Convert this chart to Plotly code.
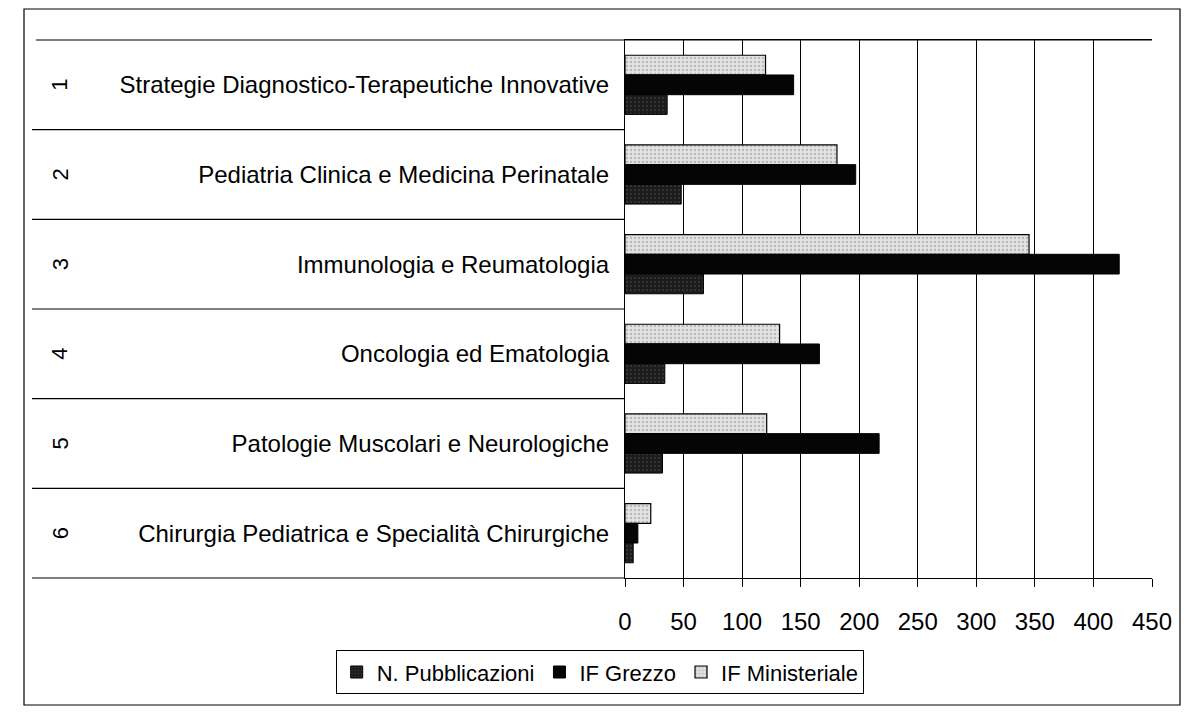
import plotly.graph_objects as go

categories = [
    "Strategie Diagnostico-Terapeutiche Innovative",
    "Pediatria Clinica e Medicina Perinatale",
    "Immunologia e Reumatologia",
    "Oncologia ed Ematologia",
    "Patologie Muscolari e Neurologiche",
    "Chirurgia Pediatrica e Specialità Chirurgiche",
]
category_numbers = ["1", "2", "3", "4", "5", "6"]
n_pubblicazioni = [36, 48, 67, 34, 32, 7]
if_grezzo = [144, 197, 422, 166, 217, 11]
if_ministeriale = [120, 181, 345, 132, 121, 22]
x_ticks = [0, 50, 100, 150, 200, 250, 300, 350, 400, 450]

# page body has an 8px margin, so target window pixels are shifted by OFF
OFF = 8
W, H = 1191, 713
PL, PR, PT, PB = 625, 1152, 40, 578   # plot area in window pixels
L = PL - OFF
T = PT - OFF
R = W - (PR - OFF)
B = H - (PB - OFF)
PW, PH = PR - PL, PB - PT

def px_x(p):
    return (p - PL) / PW

def px_y(p):
    return (PB - p) / PH

FONT = "Liberation Sans, Arial, sans-serif"

fig = go.Figure()
# first trace drawn at top of each group (y reversed)
fig.add_trace(go.Bar(
    y=categories, x=if_ministeriale, orientation="h", name="IF Ministeriale",
    marker=dict(color="#e2e2e2", line=dict(color="black", width=1.2),
                pattern=dict(shape=".", fgcolor="#8a8a8a", bgcolor="#e2e2e2", size=4, solidity=0.25)),
))
fig.add_trace(go.Bar(
    y=categories, x=if_grezzo, orientation="h", name="IF Grezzo",
    marker=dict(color="#050505", line=dict(color="black", width=1)),
))
fig.add_trace(go.Bar(
    y=categories, x=n_pubblicazioni, orientation="h", name="N. Pubblicazioni",
    marker=dict(color="#1c1c1c", line=dict(color="black", width=1),
                pattern=dict(shape=".", fgcolor="#5a5a5a", bgcolor="#1c1c1c", size=4, solidity=0.2)),
))

shapes = []
shapes.append(dict(type="rect", xref="paper", yref="paper",
                   x0=px_x(24), x1=px_x(1180), y0=px_y(705), y1=px_y(9),
                   line=dict(color="black", width=1.2), fillcolor="rgba(0,0,0,0)", layer="below"))
shapes.append(dict(type="line", xref="paper", yref="paper",
                   x0=px_x(36), x1=1, y0=1, y1=1, line=dict(color="black", width=1.2)))
n = len(categories)
for k in range(1, n + 1):
    shapes.append(dict(type="line", xref="paper", yref="paper",
                       x0=px_x(32), x1=0, y0=1 - k / n, y1=1 - k / n,
                       line=dict(color="black", width=1.2)))

annotations = []
for i, num in enumerate(category_numbers):
    annotations.append(dict(xref="paper", yref="paper", x=px_x(60), y=1 - (i + 0.5) / n,
                            text=num, showarrow=False, textangle=-90,
                            font=dict(family=FONT, size=22, color="black"),
                            xanchor="center", yanchor="middle"))

fig.update_layout(
    width=W, height=H,
    margin=dict(l=L, r=R, t=T, b=B, pad=0, autoexpand=False),
    paper_bgcolor="white", plot_bgcolor="white",
    barmode="group", bargap=0.34, bargroupgap=0,
    font=dict(family=FONT, size=24, color="black"),
    showlegend=True,
    legend=dict(orientation="h", traceorder="reversed",
                x=px_x(600), xanchor="center", y=px_y(650), yanchor="top",
                bordercolor="black", borderwidth=1.2, bgcolor="white",
                font=dict(family=FONT, size=22, color="black"),
                itemwidth=30, tracegroupgap=0),
    shapes=shapes, annotations=annotations,
    xaxis=dict(range=[0, 450], tickvals=x_ticks, ticktext=[str(v) for v in x_ticks],
               showgrid=True, gridcolor="black", gridwidth=1.2,
               showline=True, linecolor="black", linewidth=1.2, mirror=True,
               ticks="outside", ticklen=8, tickcolor="black", tickwidth=1.2,
               ticklabelstandoff=14, zeroline=False,
               tickfont=dict(family=FONT, size=24, color="black")),
    yaxis=dict(autorange="reversed", type="category",
               showline=True, linecolor="black", linewidth=1.2,
               ticks="", showgrid=False, ticklabelstandoff=10,
               tickfont=dict(family=FONT, size=24, color="black")),
)

fig.write_html("out.html")
